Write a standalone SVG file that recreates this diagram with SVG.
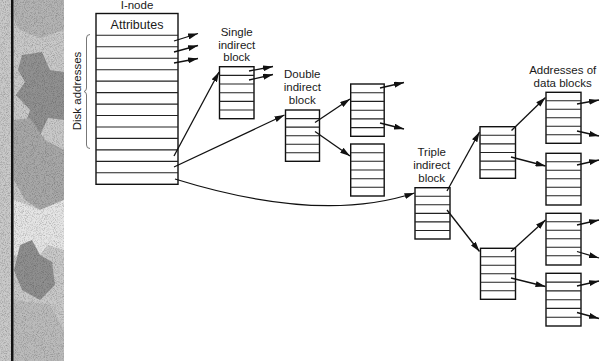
<svg xmlns="http://www.w3.org/2000/svg" width="608" height="361" viewBox="0 0 608 361">
<style>
.blk{fill:none;stroke:#111;stroke-width:1.4}
.row{fill:none;stroke:#222;stroke-width:1.1}
.arr{fill:none;stroke:#111;stroke-width:1.3;marker-end:url(#ah)}
text{font-family:"Liberation Sans",Arial,sans-serif;fill:#1a1a1a;font-size:11.5px;text-anchor:middle}
</style>
<defs>
<marker id="ah" markerUnits="userSpaceOnUse" markerWidth="10" markerHeight="6" refX="10" refY="3" orient="auto">
<path d="M0,0 L10,3 L0,6 z" fill="#111"/>
</marker>
<filter id="grain" x="0" y="0" width="1" height="1">
<feTurbulence type="fractalNoise" baseFrequency="1.1" numOctaves="2" seed="3"/>
<feColorMatrix type="matrix" values="0 0 0 0 0  0 0 0 0 0  0 0 0 0 0  2.2 0 0 0 -0.95"/>
</filter>
<filter id="grainw" x="0" y="0" width="1" height="1">
<feTurbulence type="fractalNoise" baseFrequency="1.0" numOctaves="2" seed="9"/>
<feColorMatrix type="matrix" values="0 0 0 0 1  0 0 0 0 1  0 0 0 0 1  2.2 0 0 0 -0.95"/>
</filter>
</defs>
<rect width="608" height="361" fill="#fff"/>
<g id="decor">
<rect x="0" y="0" width="64" height="361" fill="#c6c6c6"/>
<polygon points="14,0 64,0 64,30 40,38 20,30 14,20" fill="#b0b0b0"/>
<polygon points="22,55 42,52 50,70 64,72 64,120 48,118 40,135 25,125 30,110 16,95 25,82 18,70" fill="#8c8c8c"/>
<polygon points="14,120 30,118 45,140 64,150 64,200 40,210 25,200 14,180" fill="#a4a4a4"/>
<polygon points="14,200 40,210 64,200 64,250 48,245 35,260 14,255" fill="#e4e4e4"/>
<polygon points="20,245 32,240 40,255 52,262 55,285 40,300 22,290 14,270" fill="#8a8a8a"/>
<polygon points="14,300 50,305 64,330 64,361 14,361" fill="#b8b8b8"/>
<rect x="0" y="0" width="64" height="361" fill="#000" filter="url(#grain)" opacity="0.25"/>
<rect x="0" y="0" width="64" height="361" fill="#fff" filter="url(#grainw)" opacity="0.3"/>
<rect x="11" y="0" width="2.5" height="361" fill="#111"/>
</g>
<g id="inode">
<text x="137" y="8.5">I-node</text>
<rect class="blk" x="96" y="13.5" width="82" height="170.8"/>
<text x="137" y="28.5" style="font-size:12.5px">Attributes</text>
<path class="row" d="M96,35.3H178M96,46.8H178M96,58.2H178M96,69.7H178M96,81.1H178M96,92.6H178M96,104.1H178M96,115.5H178M96,127H178M96,138.4H178M96,149.9H178M96,161.4H178M96,172.8H178"/>
<text transform="translate(80.5,91) rotate(-90)">Disk addresses</text>
<path d="M90,34.5 Q86.5,34.5 86.5,38 V88 Q86.5,91 84,91.5 Q86.5,92 86.5,95 V145 Q86.5,148.5 90,148.5" fill="none" stroke="#777" stroke-width="1"/>
</g>
<g id="single">
<text x="236.7" y="36">Single</text>
<text x="236.7" y="48.5">indirect</text>
<text x="236.7" y="61">block</text>
<rect class="blk" x="219.5" y="66.7" width="34.5" height="52"/>
<path class="row" d="M219.5,75.4H254M219.5,84H254M219.5,92.7H254M219.5,101.4H254M219.5,110H254"/>
</g>
<g id="double">
<text x="302.3" y="77.5">Double</text>
<text x="302.3" y="90.5">indirect</text>
<text x="302.3" y="103.5">block</text>
<rect class="blk" x="285.5" y="110" width="34" height="51.3"/>
<path class="row" d="M285.5,118.6H319.5M285.5,127.1H319.5M285.5,135.7H319.5M285.5,144.2H319.5M285.5,152.8H319.5"/>
</g>
<g id="d-upper">
<rect class="blk" x="350.7" y="84" width="33.5" height="52.3"/>
<path class="row" d="M350.7,92.7H384.2M350.7,101.4H384.2M350.7,110.2H384.2M350.7,118.9H384.2M350.7,127.6H384.2"/>
</g>
<g id="d-lower">
<rect class="blk" x="350.7" y="144" width="33.5" height="52"/>
<path class="row" d="M350.7,152.7H384.2M350.7,161.3H384.2M350.7,170H384.2M350.7,178.7H384.2M350.7,187.3H384.2"/>
</g>
<g id="triple">
<text x="431.7" y="156">Triple</text>
<text x="431.7" y="169">indirect</text>
<text x="431.7" y="181.5">block</text>
<rect class="blk" x="415" y="187.7" width="35" height="51.3"/>
<path class="row" d="M415,196.3H450M415,204.8H450M415,213.4H450M415,221.9H450M415,230.5H450"/>
</g>
<g id="t-upper">
<rect class="blk" x="480" y="126.7" width="35.5" height="51.6"/>
<path class="row" d="M480,135.3H515.5M480,143.9H515.5M480,152.5H515.5M480,161.1H515.5M480,169.7H515.5"/>
</g>
<g id="t-lower">
<rect class="blk" x="480.5" y="248.3" width="35" height="51"/>
<path class="row" d="M480.5,256.8H515.5M480.5,265.3H515.5M480.5,273.8H515.5M480.5,282.3H515.5M480.5,290.8H515.5"/>
</g>
<g id="data-label">
<text x="562.7" y="74">Addresses of</text>
<text x="562.7" y="87">data blocks</text>
</g>
<g id="data1">
<rect class="blk" x="546" y="92.3" width="35" height="51"/>
<path class="row" d="M546,100.8H581M546,109.3H581M546,117.8H581M546,126.3H581M546,134.8H581"/>
</g>
<g id="data2">
<rect class="blk" x="546" y="153.3" width="35" height="51.7"/>
<path class="row" d="M546,161.8H581M546,170.3H581M546,178.8H581M546,187.3H581M546,195.8H581"/>
</g>
<g id="data3">
<rect class="blk" x="546" y="213.3" width="35" height="51.7"/>
<path class="row" d="M546,221.8H581M546,230.3H581M546,238.8H581M546,247.3H581M546,255.8H581"/>
</g>
<g id="data4">
<rect class="blk" x="546" y="273.3" width="35" height="52.7"/>
<path class="row" d="M546,282.1H581M546,290.9H581M546,299.7H581M546,308.4H581M546,317.2H581"/>
</g>
<g id="connectors">
<path class="arr" d="M174,41L198,33.5"/>
<path class="arr" d="M174,52L198,45.5"/>
<path class="arr" d="M174,63L198,58.5"/>
<path class="arr" d="M174,156L219,72"/>
<path class="arr" d="M174,167L284.5,115"/>
<path class="arr" d="M175,179Q320,224 414.5,193"/>
<path class="arr" d="M249,71L273,66.5"/>
<path class="arr" d="M249,80L273,74.5"/>
<path class="arr" d="M315,122.5L350,99"/>
<path class="arr" d="M315,131.5L350,156"/>
<path class="arr" d="M380,88L404,82.5"/>
<path class="arr" d="M380,123L404,129"/>
<path class="arr" d="M447,191L479.5,132"/>
<path class="arr" d="M447,210L479.5,251.5"/>
<path class="arr" d="M511.5,130.5L545.5,97.5"/>
<path class="arr" d="M511,157L545.5,166"/>
<path class="arr" d="M511,251.5L545.5,220"/>
<path class="arr" d="M511,278L545.5,286.5"/>
<path class="arr" d="M577,104L599,100"/>
<path class="arr" d="M577,131L599,136"/>
<path class="arr" d="M577,165L599,160"/>
<path class="arr" d="M577,225L599,220"/>
<path class="arr" d="M577,251.5L599,258"/>
<path class="arr" d="M577,286L599,281"/>
<path class="arr" d="M577,312.5L599,318.5"/>
</g>
</svg>
